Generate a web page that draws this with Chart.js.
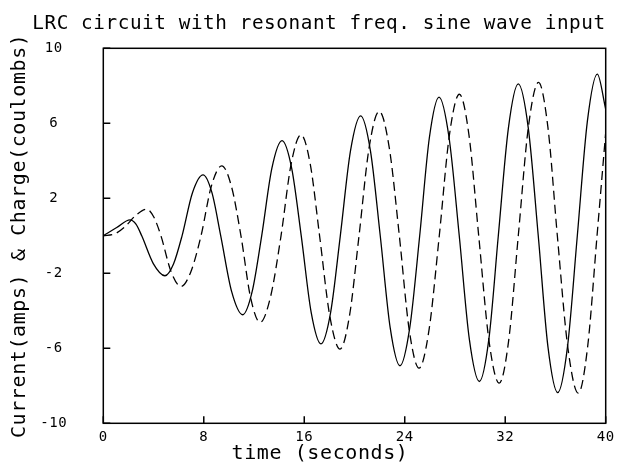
<!DOCTYPE html>
<html>
<head>
<meta charset="utf-8">
<script src="https://cdn.jsdelivr.net/npm/chart.js@4/dist/chart.umd.min.js"></script>
<style>
  html, body { margin: 0; padding: 0; background: #fff; }
</style>
</head>
<body>
<canvas id="myChart" width="623" height="466"></canvas>
<script>
var chartTitle = 'LRC circuit with resonant freq. sine wave input';
var xTitle = 'time (seconds)';
var yTitle = 'Current(amps) & Charge(coulombs)';
var xTicks = [0, 8, 16, 24, 32, 40];
var yTicks = [-10, -6, -2, 2, 6, 10];

// current (solid line): extremes, zero crossings and points in between
var currentT = [0, 1.07, 2.13, 2.6, 3.06, 3.98, 4.91, 5.59, 6.27, 7.1, 7.94, 8.65, 9.35,
  10.22, 11.1, 11.85, 12.61, 13.42, 14.23, 15.0, 15.76, 16.55, 17.33, 18.1, 18.87,
  19.68, 20.49, 21.27, 22.05, 22.84, 23.62, 24.4, 25.19, 25.96, 26.73, 27.53, 28.34,
  29.14, 29.94, 30.7, 31.45, 32.25, 33.04, 33.84, 34.63, 35.4, 36.18, 36.96, 37.74,
  38.54, 39.33, 40];
var currentV = [0, 0.44, 0.85, 0.62, 0, -1.48, -2.13, -1.5, 0, 2.3, 3.25, 2.3, 0,
  -2.98, -4.21, -2.98, 0, 3.6, 5.08, 3.6, 0, -4.08, -5.76, -4.08, 0,
  4.53, 6.4, 4.53, 0, -4.9, -6.93, -4.9, 0, 5.23, 7.4, 5.23, 0,
  -5.5, -7.77, -5.5, 0, 5.73, 8.1, 5.73, 0, -5.91, -8.36, -5.91, 0,
  6.1, 8.62, 6.75];

// charge (dashed line)
var chargeT = [0, 0.9, 1.75, 2.6, 3.46, 4.02, 4.59, 5.39, 6.19, 6.98, 7.78, 8.6, 9.43,
  10.2, 10.96, 11.72, 12.48, 13.31, 14.15, 14.95, 15.74, 16.48, 17.22, 18.03, 18.85,
  19.6, 20.36, 21.16, 21.97, 22.77, 23.57, 24.35, 25.14, 25.94, 26.75, 27.55, 28.35,
  29.12, 29.89, 30.7, 31.52, 32.28, 33.04, 33.84, 34.65, 35.4, 36.15, 36.98, 37.82,
  38.56, 39.31, 40];
var chargeV = [0, 0.1, 0.5, 1.1, 1.42, 1.0, 0, -1.9, -2.7, -1.9, 0, 2.64, 3.73,
  2.64, 0, -3.27, -4.62, -3.27, 0, 3.81, 5.39, 3.81, 0, -4.27, -6.04,
  -4.27, 0, 4.69, 6.63, 4.69, 0, -4.99, -7.06, -4.99, 0, 5.34, 7.55,
  5.34, 0, -5.56, -7.86, -5.56, 0, 5.78, 8.18, 5.78, 0, -5.93, -8.39,
  -5.93, 0, 5.5];

var fontFamily = '"DejaVu Sans Mono", monospace';

function toPoints(ts, vs) {
  return ts.map(function (t, i) { return { x: t, y: vs[i] }; });
}

// wider-spaced lettering like the plotter font
var spacing = {
  id: 'spacing',
  beforeUpdate: function (chart) { chart.ctx.letterSpacing = '0.6px'; },
  beforeDraw: function (chart) { chart.ctx.letterSpacing = '0.6px'; }
};

// box round the plot, short inward ticks, and the x label (centred like the main title)
var frameTicks = {
  id: 'frameTicks',
  afterDatasetsDraw: function (chart) {
    var ctx = chart.ctx, a = chart.chartArea;
    var xs = chart.scales.x, ys = chart.scales.y;
    ctx.save();
    ctx.strokeStyle = '#000';
    ctx.lineWidth = 1.5;
    ctx.strokeRect(a.left, a.top, a.right - a.left, a.bottom - a.top);
    ctx.beginPath();
    xs.ticks.forEach(function (t) {
      var px = xs.getPixelForValue(t.value);
      ctx.moveTo(px, a.bottom);
      ctx.lineTo(px, a.bottom - 7);
    });
    ys.ticks.forEach(function (t) {
      var py = ys.getPixelForValue(t.value);
      ctx.moveTo(a.left, py);
      ctx.lineTo(a.left + 7, py);
    });
    ctx.stroke();
    ctx.fillStyle = '#000';
    ctx.font = '20px ' + fontFamily;
    ctx.textAlign = 'center';
    ctx.textBaseline = 'middle';
    ctx.fillText(xTitle, 320, 454);
    ctx.restore();
  }
};

var ctx = document.getElementById('myChart').getContext('2d');
var myChart = new Chart(ctx, {
  type: 'line',
  data: {
    datasets: [{
      label: 'Current',
      data: toPoints(currentT, currentV),
      borderColor: '#000',
      borderWidth: 1.3,
      pointRadius: 0,
      cubicInterpolationMode: 'monotone',
      fill: false
    }, {
      label: 'Charge',
      data: toPoints(chargeT, chargeV),
      borderColor: '#000',
      borderWidth: 1.3,
      borderDash: [9, 5],
      pointRadius: 0,
      cubicInterpolationMode: 'monotone',
      fill: false
    }]
  },
  options: {
    responsive: false,
    animation: false,
    devicePixelRatio: 1,
    layout: { padding: { left: 32.3, right: 17.3, top: 0, bottom: 0 } },
    plugins: {
      legend: { display: false },
      tooltip: { enabled: false },
      title: {
        display: true,
        text: chartTitle,
        color: '#000',
        font: { family: fontFamily, size: 20, weight: 'normal' },
        padding: { top: 12, bottom: 12.3 }
      }
    },
    scales: {
      x: {
        type: 'linear',
        min: 0,
        max: 40,
        afterBuildTicks: function (s) { s.ticks = xTicks.map(function (v) { return { value: v }; }); },
        afterFit: function (s) { s.height = 42.7; },
        grid: { display: false, drawTicks: false },
        border: { display: false },
        ticks: { color: '#000', padding: 6, maxRotation: 0, font: { family: fontFamily, size: 14 } },
        title: { display: false }
      },
      y: {
        type: 'linear',
        min: -10,
        max: 10,
        afterBuildTicks: function (s) { s.ticks = yTicks.map(function (v) { return { value: v }; }); },
        afterFit: function (s) { s.width = 71; s.paddingTop = 8; s.paddingBottom = 8; },
        grid: { display: false, drawTicks: false },
        border: { display: false },
        ticks: { color: '#000', padding: 36, crossAlign: 'center', font: { family: fontFamily, size: 14 } },
        title: {
          display: true,
          text: yTitle,
          color: '#000',
          font: { family: fontFamily, size: 20 },
          padding: { top: -24.3, bottom: 0 }
        }
      }
    }
  },
  plugins: [spacing, frameTicks]
});
</script>
</body>
</html>
